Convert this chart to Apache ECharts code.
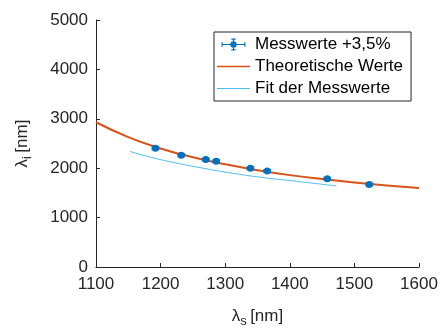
<!DOCTYPE html>
<html>
<head>
<meta charset="utf-8">
<script src="https://cdn.jsdelivr.net/npm/echarts@6/dist/echarts.min.js"></script>
<style>
  html, body { margin: 0; padding: 0; background: #fff; }
  #chart { width: 442px; height: 333px; }
</style>
</head>
<body>
<div id="chart"></div>
<script>
// measured points (lambda_s, lambda_i) in nm
const messX = [1192, 1232, 1270, 1286, 1339, 1365, 1458, 1523];
const messY = [2404, 2263, 2176, 2141, 2000, 1945, 1784, 1671];
const errX = 5;
const errY = 40;

// theoretical curve
const theoX = [1100, 1150, 1200, 1250, 1300, 1350, 1400, 1450, 1500, 1550, 1600];
const theoY = [2930, 2630, 2400, 2220, 2080, 1960, 1860, 1780, 1710, 1650, 1600];

// fit of the measured values
const fitX = [1153, 1190, 1230, 1270, 1315, 1360, 1400, 1440, 1472];
const fitY = [2337, 2205, 2090, 1990, 1890, 1808, 1750, 1690, 1640];

const xTicks = [1100, 1600, 100];
const yTicks = [0, 5000, 1000];

const font = 'Liberation Sans, Arial, sans-serif';
const axisColor = '#262626';

const errIcon = 'path://M0 0M33 14' +
  'M4.5 6.4H28.5V7.6H4.5Z' +
  'M15.9 1H17.1V13H15.9Z' +
  'M4.5 4.8H5.7V9.2H4.5Z' +
  'M27.3 4.8H28.5V9.2H27.3Z' +
  'M14.3 1H18.7V2.2H14.3Z' +
  'M14.3 11.8H18.7V13H14.3Z' +
  'M16.5 3.8A3.2 3.2 0 1 1 16.49 3.8Z';
const lineIcon = 'path://M0 0M33 14M0 6.3H33V7.7H0Z';
const thinIcon = 'path://M0 0M33 14M0 6.5H33V7.5H0Z';

const chart = echarts.init(document.getElementById('chart'));

chart.setOption({
  animation: false,
  backgroundColor: '#fff',
  grid: { left: 96, right: 23, top: 20, bottom: 65 },
  legend: {
    orient: 'vertical',
    left: 214,
    top: 32,
    padding: [4, 8, 4, 3],
    itemWidth: 33,
    itemHeight: 14,
    itemGap: 5,
    backgroundColor: '#fff',
    borderColor: axisColor,
    borderWidth: 1,
    borderRadius: 0,
    textStyle: { fontFamily: font, fontSize: 17, color: '#000' },
    data: [
      { name: 'Messwerte +3,5%', icon: errIcon },
      { name: 'Theoretische Werte', icon: lineIcon },
      { name: 'Fit der Messwerte', icon: thinIcon }
    ]
  },
  xAxis: {
    type: 'value',
    min: xTicks[0],
    max: xTicks[1],
    interval: xTicks[2],
    name: '{l|λ}{s|s} {l|[nm]}',
    nameLocation: 'middle',
    nameGap: 38,
    nameTextStyle: {
      rich: {
        l: { fontFamily: font, fontSize: 17, color: '#262626' },
        s: { fontFamily: font, fontSize: 13, color: '#262626', verticalAlign: 'bottom', padding: [10, 0, 0, 0] }
      }
    },
    axisLine: { lineStyle: { color: axisColor, width: 1 } },
    axisTick: { inside: true, length: 4, lineStyle: { color: axisColor } },
    axisLabel: { fontFamily: font, fontSize: 17, color: '#262626', margin: 9, formatter: v => String(v) },
    splitLine: { show: false }
  },
  yAxis: {
    type: 'value',
    min: yTicks[0],
    max: yTicks[1],
    interval: yTicks[2],
    name: '{l|λ}{s|i} {l|[nm]}',
    nameLocation: 'middle',
    nameRotate: 90,
    nameGap: 62,
    nameTextStyle: {
      rich: {
        l: { fontFamily: font, fontSize: 17, color: '#262626' },
        s: { fontFamily: font, fontSize: 13, color: '#262626', verticalAlign: 'bottom', padding: [10, 0, 0, 0] }
      }
    },
    axisLine: { show: true, lineStyle: { color: axisColor, width: 1 } },
    axisTick: { show: true, inside: true, length: 4, lineStyle: { color: axisColor } },
    axisLabel: { fontFamily: font, fontSize: 17, color: '#262626', margin: 8, formatter: v => String(v) },
    splitLine: { show: false }
  },
  series: [
    {
      name: 'Theoretische Werte',
      type: 'line',
      smooth: true,
      symbol: 'none',
      data: theoX.map((x, i) => [x, theoY[i]]),
      lineStyle: { color: '#D95319', width: 2 },
      itemStyle: { color: '#D95319' },
      z: 2
    },
    {
      name: 'Fit der Messwerte',
      type: 'line',
      smooth: true,
      symbol: 'none',
      data: fitX.map((x, i) => [x, fitY[i]]),
      lineStyle: { color: '#4DBEEE', width: 1 },
      itemStyle: { color: '#4DBEEE' },
      z: 2
    },
    {
      name: 'Messwerte +3,5%',
      type: 'custom',
      data: messX.map((x, i) => [x, messY[i]]),
      itemStyle: { color: '#0072BD' },
      renderItem: function (params, api) {
        const x = api.value(0), y = api.value(1);
        const l = api.coord([x - errX, y]);
        const r = api.coord([x + errX, y]);
        const t = api.coord([x, y + errY]);
        const b = api.coord([x, y - errY]);
        const c = api.coord([x, y]);
        const st = { stroke: '#0072BD', lineWidth: 1.2 };
        return {
          type: 'group',
          children: [
            { type: 'line', shape: { x1: l[0], y1: l[1], x2: r[0], y2: r[1] }, style: st },
            { type: 'line', shape: { x1: t[0], y1: t[1], x2: b[0], y2: b[1] }, style: st },
            { type: 'line', shape: { x1: l[0], y1: l[1] - 2, x2: l[0], y2: l[1] + 2 }, style: st },
            { type: 'line', shape: { x1: r[0], y1: r[1] - 2, x2: r[0], y2: r[1] + 2 }, style: st },
            { type: 'line', shape: { x1: t[0] - 2, y1: t[1], x2: t[0] + 2, y2: t[1] }, style: st },
            { type: 'line', shape: { x1: b[0] - 2, y1: b[1], x2: b[0] + 2, y2: b[1] }, style: st },
            { type: 'circle', shape: { cx: c[0], cy: c[1], r: 3.5 }, style: { fill: '#0072BD' } }
          ]
        };
      },
      z: 3
    }
  ]
});
</script>
</body>
</html>
